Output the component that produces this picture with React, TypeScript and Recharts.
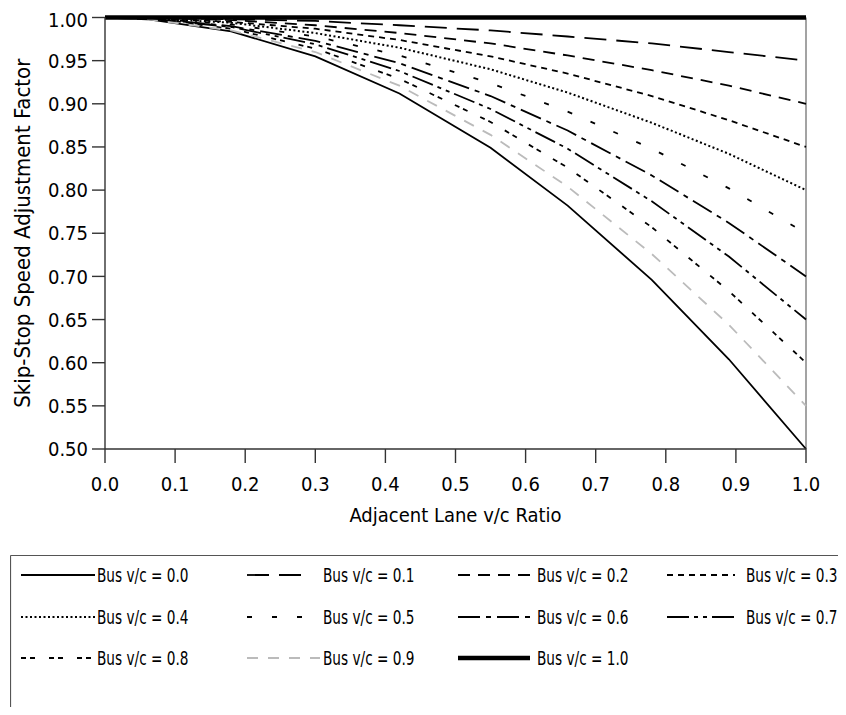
import React from 'react';
import { LineChart, Line, XAxis, YAxis, ReferenceLine, Legend } from 'recharts';

// adjacent lane v/c ratio (x) and skip-stop speed adjustment factor per bus v/c curve
const adjacentVc = [0, 0.06, 0.18, 0.3, 0.42, 0.55, 0.66, 0.78, 0.89, 1.0];
const bus00 = [1, 0.998, 0.984, 0.955, 0.912, 0.849, 0.782, 0.696, 0.604, 0.5];
const bus01 = [1, 1.0, 0.998, 0.996, 0.991, 0.985, 0.978, 0.97, 0.96, 0.95];
const bus02 = [1, 1.0, 0.997, 0.991, 0.982, 0.97, 0.956, 0.939, 0.921, 0.9];
const bus03 = [1, 0.999, 0.995, 0.987, 0.974, 0.955, 0.935, 0.909, 0.881, 0.85];
const bus04 = [1, 0.999, 0.994, 0.982, 0.965, 0.94, 0.913, 0.878, 0.842, 0.8];
const bus05 = [1, 0.999, 0.992, 0.978, 0.956, 0.924, 0.891, 0.848, 0.802, 0.75];
const bus06 = [1, 0.999, 0.99, 0.973, 0.947, 0.909, 0.869, 0.817, 0.762, 0.7];
const bus07 = [1, 0.999, 0.989, 0.969, 0.938, 0.894, 0.848, 0.787, 0.723, 0.65];
const bus08 = [1, 0.999, 0.987, 0.964, 0.929, 0.879, 0.826, 0.757, 0.683, 0.6];
const bus09 = [1, 0.998, 0.985, 0.96, 0.921, 0.864, 0.804, 0.726, 0.644, 0.55];
const bus10 = [1, 1, 1, 1, 1, 1, 1, 1, 1, 1];

const xTicks = [0, 0.1, 0.2, 0.3, 0.4, 0.5, 0.6, 0.7, 0.8, 0.9, 1.0];
const yTicks = [0.5, 0.55, 0.6, 0.65, 0.7, 0.75, 0.8, 0.85, 0.9, 0.95, 1.0];

const data = adjacentVc.map((x, i) => ({
  x,
  b00: bus00[i], b01: bus01[i], b02: bus02[i], b03: bus03[i], b04: bus04[i], b05: bus05[i],
  b06: bus06[i], b07: bus07[i], b08: bus08[i], b09: bus09[i], b10: bus10[i],
}));

const FONT = '"Liberation Sans Narrow", "Arial Narrow", "DejaVu Sans Condensed", sans-serif';

const series = [
  { key: 'b00', name: 'Bus v/c = 0.0', color: '#000', dash: undefined, width: 1.8, len: 74 },
  { key: 'b01', name: 'Bus v/c = 0.1', color: '#000', dash: '22 10', width: 1.8, len: 54 },
  { key: 'b02', name: 'Bus v/c = 0.2', color: '#000', dash: '12 8', width: 1.8, len: 72 },
  { key: 'b03', name: 'Bus v/c = 0.3', color: '#000', dash: '6 5', width: 1.8, len: 68 },
  { key: 'b04', name: 'Bus v/c = 0.4', color: '#000', dash: '2 2.5', width: 2, len: 74 },
  { key: 'b05', name: 'Bus v/c = 0.5', color: '#000', dash: '5 20', width: 1.8, len: 55 },
  { key: 'b06', name: 'Bus v/c = 0.6', color: '#000', dash: '22 6 5 6', width: 1.8, len: 72 },
  { key: 'b07', name: 'Bus v/c = 0.7', color: '#000', dash: '22 5 4 5 4 5', width: 1.8, len: 71 },
  { key: 'b08', name: 'Bus v/c = 0.8', color: '#000', dash: '5 4 5 14', width: 1.8, len: 74 },
  { key: 'b09', name: 'Bus v/c = 0.9', color: '#bbbbbb', dash: '11 10', width: 1.8, len: 73 },
  { key: 'b10', name: 'Bus v/c = 1.0', color: '#000', dash: undefined, width: 4.5, len: 72 },
];

// legend grid: 4 columns, 3 rows (coordinates inside the legend box)
const colSample = [11, 237, 448, 657];
const colText = [87, 313, 527, 736];
const rowY = [20, 62, 103];

const renderLegend = () => (
  <svg width={836} height={160} style={{ display: 'block' }}>
    <line x1={0.5} y1={0.5} x2={836} y2={0.5} stroke="#555" strokeWidth={1.2} />
    <line x1={0.5} y1={0.5} x2={0.5} y2={160} stroke="#555" strokeWidth={1.2} />
    {series.map((s, i) => {
      const c = i % 4;
      const r = Math.floor(i / 4);
      const y = rowY[r];
      return (
        <g key={s.key}>
          <line
            x1={colSample[c]}
            y1={y}
            x2={colSample[c] + s.len}
            y2={y}
            stroke={s.color}
            strokeWidth={s.width}
            strokeDasharray={s.dash}
          />
          <text
            transform={`translate(${colText[c]},${y}) scale(0.76,1)`}
            dominantBaseline="central"
            fontSize={20}
            fontFamily={FONT}
            fill="#000"
          >
            {s.name}
          </text>
        </g>
      );
    })}
  </svg>
);

const App: React.FC = () => {
  return (
    <div style={{ width: 838, height: 699, fontFamily: FONT }}>
      <LineChart
        width={838}
        height={699}
        data={data}
        margin={{ top: 9.5, right: 40, left: 0, bottom: 185 }}
      >
        <XAxis
          dataKey="x"
          type="number"
          domain={[0, 1]}
          ticks={xTicks}
          tickFormatter={(v: number) => v.toFixed(1)}
          height={73}
          tickSize={14}
          tickMargin={14}
          stroke="#333"
          strokeWidth={1.4}
          tick={{ fill: '#000', fontSize: 20, fontFamily: FONT }}
          label={{ value: 'Adjacent Lane v/c Ratio', position: 'insideBottom', offset: 0, fill: '#000', fontSize: 20, fontFamily: FONT }}
        />
        <YAxis
          type="number"
          domain={[0.5, 1]}
          ticks={yTicks}
          tickFormatter={(v: number) => v.toFixed(2)}
          width={97}
          tickSize={13}
          tickMargin={4}
          stroke="#333"
          strokeWidth={1.4}
          tick={{ fill: '#000', fontSize: 20, fontFamily: FONT }}
          label={{
            value: 'Skip-Stop Speed Adjustment Factor',
            angle: -90,
            position: 'insideLeft',
            offset: 14,
            style: { textAnchor: 'middle' },
            fill: '#000',
            fontSize: 22,
            fontFamily: FONT,
          }}
        />
        <ReferenceLine x={1} stroke="#666" strokeWidth={1.2} />
        {series.map((s) => (
          <Line
            key={s.key}
            dataKey={s.key}
            name={s.name}
            type="linear"
            stroke={s.color}
            strokeWidth={s.width}
            strokeDasharray={s.dash}
            dot={false}
            activeDot={false}
            isAnimationActive={false}
          />
        ))}
        <Legend
          layout="horizontal"
          verticalAlign="middle"
          align="center"
          content={renderLegend}
          wrapperStyle={{ left: 2, top: 547, width: 836, height: 160 }}
        />
      </LineChart>
    </div>
  );
};

export default App;
